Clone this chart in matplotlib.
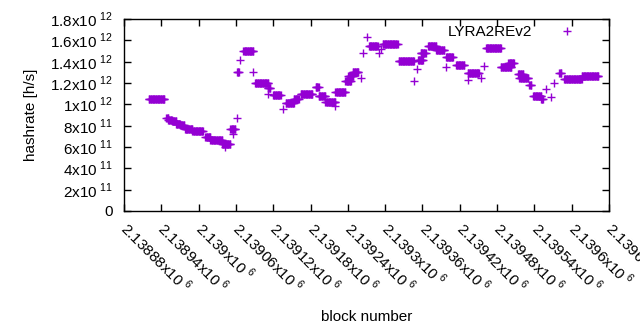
import numpy as np
import matplotlib
matplotlib.use("Agg")
import matplotlib.pyplot as plt

plt.rcParams['font.family'] = ['Liberation Sans', 'DejaVu Sans']
plt.rcParams['mathtext.fontset'] = 'custom'
plt.rcParams['mathtext.rm'] = 'Liberation Sans'

# runs of blocks with the same hashrate: first block, last block, hashrate (x1e12)
run_start = [2138920, 2138948, 2138951, 2138957, 2138964, 2138970, 2138978, 2138990,
             2139011, 2139019, 2139038, 2139051, 2139062, 2139072, 2139091, 2139111,
             2139120, 2139140, 2139153, 2139164, 2139188, 2139193, 2139204, 2139220,
             2139236, 2139241, 2139248, 2139274, 2139296, 2139322, 2139353, 2139357,
             2139369, 2139382, 2139398, 2139414, 2139433, 2139462, 2139486, 2139498,
             2139514, 2139516, 2139532, 2139538, 2139551, 2139580, 2139588, 2139616]
run_end = [2138945, 2138951, 2138957, 2138964, 2138970, 2138977, 2138990, 2139007,
           2139019, 2139038, 2139051, 2139059, 2139065, 2139088, 2139112, 2139115,
           2139132, 2139153, 2139161, 2139183, 2139193, 2139204, 2139220, 2139236,
           2139245, 2139249, 2139257, 2139288, 2139320, 2139346, 2139361, 2139365,
           2139382, 2139395, 2139409, 2139427, 2139451, 2139486, 2139503, 2139507,
           2139522, 2139530, 2139535, 2139551, 2139554, 2139583, 2139616, 2139643]
run_rate = [1.05, 0.87, 0.85, 0.84, 0.82, 0.81, 0.77, 0.75,
            0.69, 0.67, 0.63, 0.77, 1.30, 1.50, 1.20, 1.15,
            1.09, 1.01, 1.05, 1.10, 1.16, 1.08, 1.02, 1.12,
            1.22, 1.27, 1.30, 1.55, 1.57, 1.41, 1.42, 1.48,
            1.55, 1.51, 1.44, 1.37, 1.29, 1.53, 1.35, 1.39,
            1.28, 1.25, 1.18, 1.08, 1.05, 1.29, 1.24, 1.27]

# single blocks off the runs
odd_block = [2139056, 2139043, 2139062, 2139067, 2139088, 2139111, 2139136, 2139220,
             2139261, 2139264, 2139270, 2139290, 2139293, 2139346, 2139351, 2139398,
             2139433, 2139454, 2139459, 2139559, 2139567, 2139572]
odd_rate = [0.72, 0.60, 0.87, 1.42, 1.30, 1.10, 0.96, 0.98,
            1.25, 1.48, 1.63, 1.48, 1.52, 1.22, 1.33, 1.35,
            1.23, 1.25, 1.36, 1.14, 1.07, 1.20]

blocks = list(odd_block)
rates = list(odd_rate)
for b1, b2, r in zip(run_start, run_end, run_rate):
    for b in range(b1, b2 + 1):
        blocks.append(b)
        rates.append(r)
blocks = np.array(blocks)
rates = np.array(rates) * 1e12

fig = plt.figure(figsize=(6.4, 3.3), dpi=100)
ax = fig.add_axes([124/640, 1 - 211/330, (609-124)/640, (211-19)/330])

ax.plot(blocks, rates, linestyle='none', marker='+', markersize=6, mew=1,
        color='#9400D3', label='LYRA2REv2')

xt = np.arange(2138880, 2139661, 60)
ax.set_xlim(2138880, 2139660)
ax.set_xticks(xt)
ax.set_xticklabels([r'%sx10$^{\ 6}$' % f'{v/1e6:.6g}' for v in xt],
                   rotation=-45, ha='left', va='center', rotation_mode='anchor',
                   fontsize=11)

yt = np.arange(0, 1.81e12, 2e11)
ax.set_ylim(0, 1.8e12)
ax.set_yticks(yt)
ylabels = []
for v in yt:
    if v == 0:
        ylabels.append('0')
    else:
        e = int(np.floor(np.log10(v) + 1e-9))
        m = v / 10**e
        ylabels.append(r'%sx10$^{\ %d}$' % (f'{m:g}', e))
ax.set_yticklabels(ylabels, fontsize=11)

ax.tick_params(direction='in', top=True, right=True, length=5, width=1, pad=8)
ax.tick_params(axis='x', pad=10)
for s in ax.spines.values():
    s.set_linewidth(1)

ax.set_xlabel('block number', fontsize=11, labelpad=10)
ax.set_ylabel('hashrate [h/s]', fontsize=11, labelpad=9)

ax.legend(loc='upper right', bbox_to_anchor=(0.961, 0.969), markerfirst=False,
          frameon=False, borderaxespad=0, borderpad=0, handlelength=3.0,
          handletextpad=0.8, fontsize=11)

fig.savefig('out.png', dpi=100)
